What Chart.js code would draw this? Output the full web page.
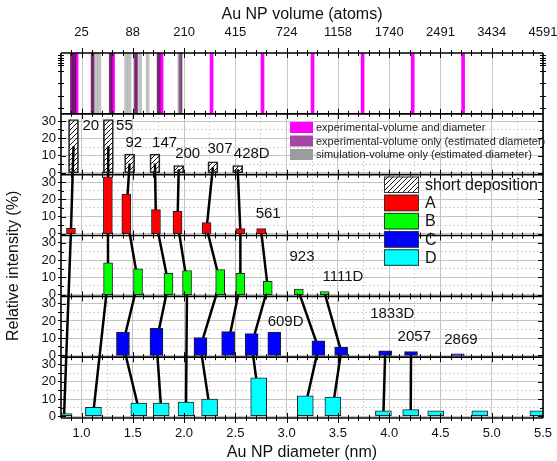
<!DOCTYPE html>
<html>
<head>
<meta charset="utf-8">
<script src="https://cdn.jsdelivr.net/npm/chart.js@4.4.1/dist/chart.umd.min.js"></script>
<style>
  html, body { margin: 0; padding: 0; background: #fff; }
  #wrap { width: 557px; height: 461px; }
</style>
</head>
<body>
<div id="wrap"><canvas id="chart" width="557" height="461"></canvas></div>
<script>
// x axis (diameter, nm) and the volume labels shown on the top axis
const xMin = 0.8, xMax = 5.5;
const majorTicks = [1.0, 1.5, 2.0, 2.5, 3.0, 3.5, 4.0, 4.5, 5.0, 5.5];
const topTickLabels = ["25", "88", "210", "415", "724", "1158", "1740", "2491", "3434", "4591"];
const yMarks = [0, 5, 10, 15, 20, 25, 30];

// top strip: cluster sizes, placed by diameter
const stripExpBoth = [0.952, 1.308, 1.781, 2.268, 2.765, 3.253, 3.741, 4.23, 4.721];
const stripExpVol = [0.906, 0.93, 1.108, 1.285, 1.531, 1.752, 1.965];
const stripSim = [1.142, 1.174, 1.435, 1.468, 1.571, 1.645, 1.955];

// size distributions, relative intensity (%)
const sdDiam = [0.922, 1.262, 1.469, 1.716, 1.948, 2.281, 2.523];
const sdVal  = [31, 31, 11, 11, 4.3, 6.5, 4.3];
const sdNames = ["20", "55", "92", "147", "200", "307", "428D"];

const aDiam = [0.897, 1.257, 1.437, 1.726, 1.936, 2.22, 2.549, 2.752];
const aVal  = [3.2, 33, 23, 14, 13, 6.5, 3, 3];

const bDiam = [1.259, 1.551, 1.848, 2.029, 2.352, 2.549, 2.816, 3.119, 3.371];
const bVal  = [18.5, 15, 12.3, 14, 14.5, 12.3, 7.7, 3.2, 1.8];

const cDiam = [1.404, 1.731, 2.16, 2.43, 2.659, 2.88, 3.31, 3.532, 3.961, 4.213, 4.669];
const cVal  = [13.5, 15.8, 10.3, 13.8, 12.7, 13.6, 8.5, 4.8, 2.7, 2.2, 1];

const dDiam = [0.83, 1.116, 1.559, 1.777, 2.019, 2.249, 2.728, 3.182, 3.451, 3.944, 4.21, 4.454, 4.884, 5.45];
const dVal  = [1.6, 5.2, 7.7, 7.7, 8.3, 10, 22.3, 11.8, 11.2, 3.1, 3.9, 3.1, 3.1, 3.1];

// which bars are linked from one panel to the next
const chains = [
  [["SD", 0], ["A", 0], ["D", 0]],
  [["SD", 1], ["A", 1], ["B", 0], ["D", 1]],
  [["SD", 2], ["A", 2], ["B", 1], ["C", 0], ["D", 2]],
  [["SD", 3], ["A", 3], ["B", 2], ["C", 1], ["D", 3]],
  [["SD", 4], ["A", 4], ["B", 3], ["D", 4]],
  [["SD", 5], ["A", 5], ["B", 4], ["C", 2], ["D", 5]],
  [["SD", 6], ["A", 6], ["B", 5], ["C", 3]],
  [["A", 7], ["B", 6], ["C", 4], ["D", 6]],
  [["B", 7], ["C", 6], ["D", 7]],
  [["B", 8], ["C", 7], ["D", 8]],
  [["C", 8], ["D", 9]],
  [["C", 9], ["D", 10]]
];

// size labels written next to the bars
const notes = [
  ["20", "SD", 1.09, 27.4], ["55", "SD", 1.418, 27.4], ["92", "SD", 1.51, 17.4],
  ["147", "SD", 1.81, 17.4], ["200", "SD", 2.035, 11], ["307", "SD", 2.35, 13.9],
  ["428D", "SD", 2.66, 11], ["561", "A", 2.82, 11.4], ["923", "B", 3.15, 22],
  ["1111D", "B", 3.55, 10.4], ["609D", "C", 2.99, 19.5], ["1833D", "C", 4.03, 24],
  ["2057", "C", 4.245, 10.8], ["2869", "C", 4.7, 8.9]
];

const SPAN = 35.3, LOW = -1;
const base = { D: 0, C: SPAN, B: 2 * SPAN, A: 3 * SPAN, SD: 4 * SPAN, strip: 5 * SPAN };
const panels = {
  SD: { diam: sdDiam, val: sdVal },
  A: { diam: aDiam, val: aVal },
  B: { diam: bDiam, val: bVal },
  C: { diam: cDiam, val: cVal },
  D: { diam: dDiam, val: dVal }
};

const yTickValues = [];
["D", "C", "B", "A", "SD"].forEach(p => yMarks.forEach(m => yTickValues.push(base[p] + m)));

const xTickValues = [];
majorTicks.forEach((v, i) => {
  xTickValues.push(v);
  if (i < majorTicks.length - 1) xTickValues.push(v + 0.25);
});

function relValue(v) {
  const k = Math.floor((v - LOW) / SPAN);
  return Math.round(v - k * SPAN);
}
function isHalf(v) {
  return Math.abs(v * 2 - Math.round(v * 2)) < 1e-6;
}

function hatch() {
  const c = document.createElement("canvas");
  c.width = 5; c.height = 5;
  const g = c.getContext("2d");
  g.strokeStyle = "#111";
  g.lineWidth = 1;
  g.beginPath();
  g.moveTo(0, 5); g.lineTo(5, 0);
  g.moveTo(-1, 1); g.lineTo(1, -1);
  g.moveTo(4, 6); g.lineTo(6, 4);
  g.stroke();
  return g.createPattern(c, "repeat");
}
const hatchFill = hatch();

function barSet(p, color, thick) {
  return {
    type: "bar",
    data: panels[p].diam.map((d, i) => ({ x: d, y: [base[p], base[p] + panels[p].val[i]] })),
    backgroundColor: color,
    borderColor: "#222",
    borderWidth: 1,
    borderSkipped: false,
    barThickness: thick,
    barPercentage: 1,
    categoryPercentage: 1,
    grouped: false,
    order: 1
  };
}

function stripSet(list, color, thick) {
  return {
    type: "bar",
    data: list.map(d => ({ x: d, y: [base.strip + LOW, base.strip + SPAN + LOW] })),
    backgroundColor: color,
    borderWidth: 0,
    barThickness: thick,
    barPercentage: 1,
    categoryPercentage: 1,
    grouped: false,
    order: 1
  };
}

const links = chains.map(ch => ({
  type: "line",
  data: ch.map(([p, i]) => ({ x: panels[p].diam[i], y: base[p] + panels[p].val[i] / 2 })),
  borderColor: "#000",
  borderWidth: 2.5,
  pointRadius: 0,
  tension: 0,
  fill: false,
  order: 5
}));

const decor = {
  id: "decor",
  beforeDatasetsDraw(chart) {
    const { ctx, chartArea: a, scales: { x, y } } = chart;
    const top = y.getPixelForValue(base.strip + SPAN + LOW);
    const bot = y.getPixelForValue(base.strip + LOW);
    ctx.save();
    ctx.fillStyle = "#fff";
    ctx.fillRect(a.left, top, a.right - a.left, bot - top);
    ctx.strokeStyle = "#c8c8c8";
    ctx.lineWidth = 1;
    majorTicks.forEach(v => {
      const px = Math.round(x.getPixelForValue(v)) + 0.5;
      ctx.beginPath();
      ctx.moveTo(px, top);
      ctx.lineTo(px, bot);
      ctx.stroke();
    });
    ctx.restore();
  },
  afterDatasetsDraw(chart) {
    const { ctx, chartArea: a, scales: { x, y } } = chart;
    ctx.save();
    const edges = [0, 1, 2, 3, 4, 5, 6].map(k => y.getPixelForValue(k * SPAN + LOW));

    // x tick marks on every panel edge
    ctx.strokeStyle = "#000";
    ctx.lineWidth = 1;
    for (let k = 9; k <= 54; k++) {
      const px = Math.round(x.getPixelForValue(k / 10)) + 0.5;
      const len = k % 5 === 0 ? 5 : 3;
      edges.forEach(py => {
        ctx.beginPath();
        ctx.moveTo(px, py - len);
        ctx.lineTo(px, py + len);
        ctx.stroke();
      });
    }

    // y tick marks, inside on both sides
    yTickValues.forEach(v => {
      const py = Math.round(y.getPixelForValue(v)) + 0.5;
      const len = relValue(v) % 10 === 0 ? 5 : 3;
      ctx.beginPath();
      ctx.moveTo(a.left, py); ctx.lineTo(a.left + len, py);
      ctx.moveTo(a.right, py); ctx.lineTo(a.right - len, py);
      ctx.stroke();
    });
    // strip side ticks
    [0.04, 0.08, 0.12, 0.16, 0.2, 0.3, 0.5, 0.7, 0.9].forEach(f => {
      const py = Math.round(edges[6] + f * (edges[5] - edges[6])) + 0.5;
      ctx.beginPath();
      ctx.moveTo(a.left - 3, py); ctx.lineTo(a.left + 3, py);
      ctx.moveTo(a.right - 3, py); ctx.lineTo(a.right + 3, py);
      ctx.stroke();
    });

    // frames
    ctx.lineWidth = 1.6;
    edges.forEach(py => {
      ctx.beginPath();
      ctx.moveTo(a.left, py); ctx.lineTo(a.right, py);
      ctx.stroke();
    });
    ctx.beginPath();
    ctx.moveTo(a.left, edges[6]); ctx.lineTo(a.left, edges[0]);
    ctx.moveTo(a.right, edges[6]); ctx.lineTo(a.right, edges[0]);
    ctx.stroke();

    // size labels
    ctx.fillStyle = "#111";
    ctx.font = "15px 'Liberation Sans', Arial, sans-serif";
    ctx.textAlign = "center";
    ctx.textBaseline = "middle";
    notes.forEach(([t, p, d, v]) => {
      ctx.fillText(t, x.getPixelForValue(d), y.getPixelForValue(base[p] + v));
    });

    // legend for the strip
    const leg1 = [
      ["#ff00ff", "experimental-volume and diameter"],
      ["#a446a4", "experimental-volume only (estimated diameter)"],
      ["#9c9c9c", "simulation-volume only (estimated diameter)"]
    ];
    ctx.textAlign = "left";
    ctx.font = "11px 'Liberation Sans', Arial, sans-serif";
    leg1.forEach(([c, t], i) => {
      const yy = 122 + i * 13.5;
      ctx.fillStyle = c;
      ctx.fillRect(290, yy, 23, 11);
      ctx.fillStyle = "#222";
      ctx.fillText(t, 316, yy + 6);
    });

    // legend for the panels
    const leg2 = [
      [hatchFill, "short deposition"], ["#ff0000", "A"], ["#00ff00", "B"],
      ["#0000ff", "C"], ["#00ffff", "D"]
    ];
    ctx.font = "16px 'Liberation Sans', Arial, sans-serif";
    leg2.forEach(([c, t], i) => {
      const yy = 176.5 + i * 18.2;
      ctx.fillStyle = "#fff";
      ctx.fillRect(384, yy, 35, 16.5);
      ctx.fillStyle = c;
      ctx.fillRect(384, yy, 35, 16.5);
      ctx.strokeStyle = "#333";
      ctx.lineWidth = 1;
      ctx.strokeRect(384.5, yy + 0.5, 34, 15.5);
      ctx.fillStyle = "#111";
      ctx.fillText(t, 425, yy + 9);
    });

    // y title, centred on the five panels
    const mid = (y.getPixelForValue(base.SD + SPAN + LOW) + y.getPixelForValue(LOW)) / 2;
    ctx.translate(14, mid);
    ctx.rotate(-Math.PI / 2);
    ctx.textAlign = "center";
    ctx.fillStyle = "#111";
    ctx.fillText("Relative intensity (%)", 0, 0);
    ctx.restore();
  }
};

Chart.defaults.font.family = "'Liberation Sans', Arial, sans-serif";
Chart.defaults.color = "#111";

new Chart(document.getElementById("chart"), {
  type: "bar",
  data: {
    datasets: [
      stripSet(stripSim, "rgba(140,140,140,0.55)", 3),
      stripSet(stripExpVol, "rgba(96,0,96,0.85)", 3),
      stripSet(stripExpBoth, "#ff00ff", 3),
      barSet("SD", hatchFill, 10),
      barSet("A", "#ff0000", 9),
      barSet("B", "#00ff00", 9),
      barSet("C", "#0000ff", 13),
      barSet("D", "#00ffff", 16),
      ...links
    ]
  },
  options: {
    responsive: false,
    animation: false,
    devicePixelRatio: 1,
    layout: { padding: { left: 0, right: 14, top: 0, bottom: 0 } },
    plugins: { legend: { display: false }, tooltip: { enabled: false } },
    scales: {
      x: {
        type: "linear",
        position: "bottom",
        min: xMin,
        max: xMax,
        offset: false,
        afterBuildTicks: s => { s.ticks = xTickValues.map(v => ({ value: v })); },
        ticks: {
          autoSkip: false,
          maxRotation: 0,
          padding: 8,
          font: { size: 13 },
          callback: v => isHalf(v) ? v.toFixed(1) : ""
        },
        grid: {
          offset: false,
          drawTicks: false,
          color: c => c.tick && isHalf(c.tick.value) ? "#c4c4c4" : "#d4d4d4"
        },
        border: {
          display: false,
          dash: c => c.tick && !isHalf(c.tick.value) ? [2, 2] : []
        },
        title: {
          display: true,
          text: "Au NP diameter (nm)",
          font: { size: 16, lineHeight: 1 },
          padding: 0
        },
        afterFit: s => { s.height = 43; s.paddingLeft = 0; s.paddingRight = 0; }
      },
      x2: {
        type: "linear",
        position: "top",
        min: xMin,
        max: xMax,
        offset: false,
        afterBuildTicks: s => { s.ticks = majorTicks.map(v => ({ value: v })); },
        ticks: {
          autoSkip: false,
          maxRotation: 0,
          padding: 13,
          font: { size: 13 },
          callback: (v, i) => topTickLabels[i]
        },
        grid: { display: false, drawTicks: false, offset: false },
        border: { display: false },
        title: {
          display: true,
          text: "Au NP volume (atoms)",
          font: { size: 16 },
          padding: { top: 5, bottom: 0 }
        },
        afterFit: s => { s.height = 53; s.paddingLeft = 0; s.paddingRight = 0; }
      },
      y: {
        type: "linear",
        min: LOW,
        max: 6 * SPAN + LOW,
        afterBuildTicks: s => { s.ticks = yTickValues.map(v => ({ value: v })); },
        ticks: {
          autoSkip: false,
          padding: 2,
          font: { size: 13 },
          callback: v => relValue(v) % 10 === 0 ? String(relValue(v)) : ""
        },
        grid: {
          tickLength: 3,
          tickColor: "#000",
          color: c => c.tick && relValue(c.tick.value) % 10 === 0 ? "#c4c4c4" : "#d4d4d4"
        },
        border: {
          display: false,
          dash: c => c.tick && relValue(c.tick.value) % 10 !== 0 ? [2, 2] : []
        },
        afterFit: s => { s.width = 61; s.paddingTop = 0; s.paddingBottom = 0; }
      }
    }
  },
  plugins: [decor]
});
</script>
</body>
</html>
